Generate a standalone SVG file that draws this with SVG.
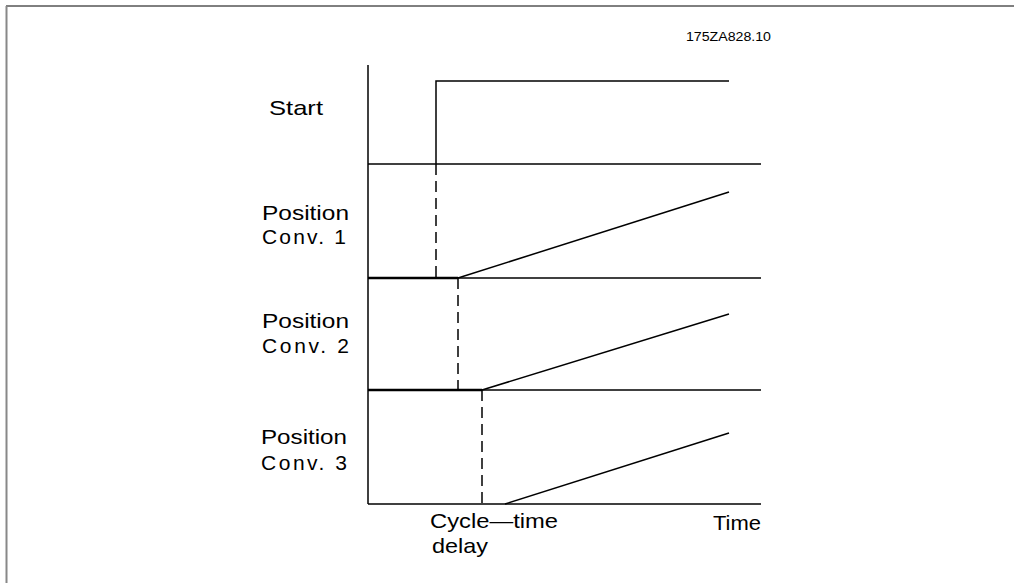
<svg xmlns="http://www.w3.org/2000/svg" width="1014" height="583" viewBox="0 0 1014 583">
<style>
.ln{stroke:#000;stroke-width:1.5;fill:none}
.th{stroke:#000;stroke-width:2.5;fill:none}
.ds{stroke:#000;stroke-width:1.5;fill:none;stroke-dasharray:11 6}
.t{font-family:"Liberation Sans","DejaVu Sans",sans-serif;font-size:21px;fill:#000}
.s{font-family:"Liberation Sans","DejaVu Sans",sans-serif;font-size:12px;fill:#000}
</style>
<rect width="1014" height="583" fill="#fff"/>
<g id="frame">
<line x1="6" y1="6" x2="1014" y2="6" stroke="#000" stroke-width="1"/>
<line x1="6.5" y1="6" x2="6.5" y2="583" stroke="#888" stroke-width="2"/>
</g>
<g id="connectors">
<line class="ln" x1="368" y1="65" x2="368" y2="504"/>
<line class="ln" x1="368" y1="164" x2="761" y2="164"/>
<line class="ln" x1="368" y1="278" x2="761" y2="278"/>
<line class="ln" x1="368" y1="390" x2="761" y2="390"/>
<line class="ln" x1="368" y1="504" x2="761" y2="504"/>
<polyline class="ln" points="436,164 436,81 729,81"/>
<line class="th" x1="368" y1="278" x2="458" y2="278"/>
<line class="th" x1="368" y1="390" x2="482" y2="390"/>
<line class="ln" x1="458" y1="278" x2="729" y2="192"/>
<line class="ln" x1="482" y1="390" x2="729" y2="314"/>
<line class="ln" x1="505" y1="504" x2="729" y2="433"/>
<line class="ds" x1="436" y1="164" x2="436" y2="278"/>
<line class="ds" x1="458" y1="278" x2="458" y2="390"/>
<line class="ds" x1="482" y1="390" x2="482" y2="504"/>
</g>
<g id="label-start"><text class="t" x="269" y="115" textLength="54" lengthAdjust="spacingAndGlyphs">Start</text></g>
<g id="label-conv1">
<text class="t" x="262" y="220" textLength="87" lengthAdjust="spacingAndGlyphs">Position</text>
<text class="t" x="262" y="244" textLength="84" lengthAdjust="spacing">Conv. 1</text>
</g>
<g id="label-conv2">
<text class="t" x="262" y="328" textLength="87" lengthAdjust="spacingAndGlyphs">Position</text>
<text class="t" x="262" y="353" textLength="87" lengthAdjust="spacing">Conv. 2</text>
</g>
<g id="label-conv3">
<text class="t" x="261" y="444" textLength="86" lengthAdjust="spacingAndGlyphs">Position</text>
<text class="t" x="261" y="470" textLength="86" lengthAdjust="spacing">Conv. 3</text>
</g>
<g id="label-cycle">
<text class="t" x="430" y="528" textLength="128" lengthAdjust="spacingAndGlyphs">Cycle—time</text>
<text class="t" x="432" y="553" textLength="56" lengthAdjust="spacingAndGlyphs">delay</text>
</g>
<g id="label-time"><text class="t" x="713" y="530" textLength="48" lengthAdjust="spacingAndGlyphs">Time</text></g>
<g id="label-code"><text class="s" x="686" y="41" textLength="85" lengthAdjust="spacingAndGlyphs">175ZA828.10</text></g>
</svg>
